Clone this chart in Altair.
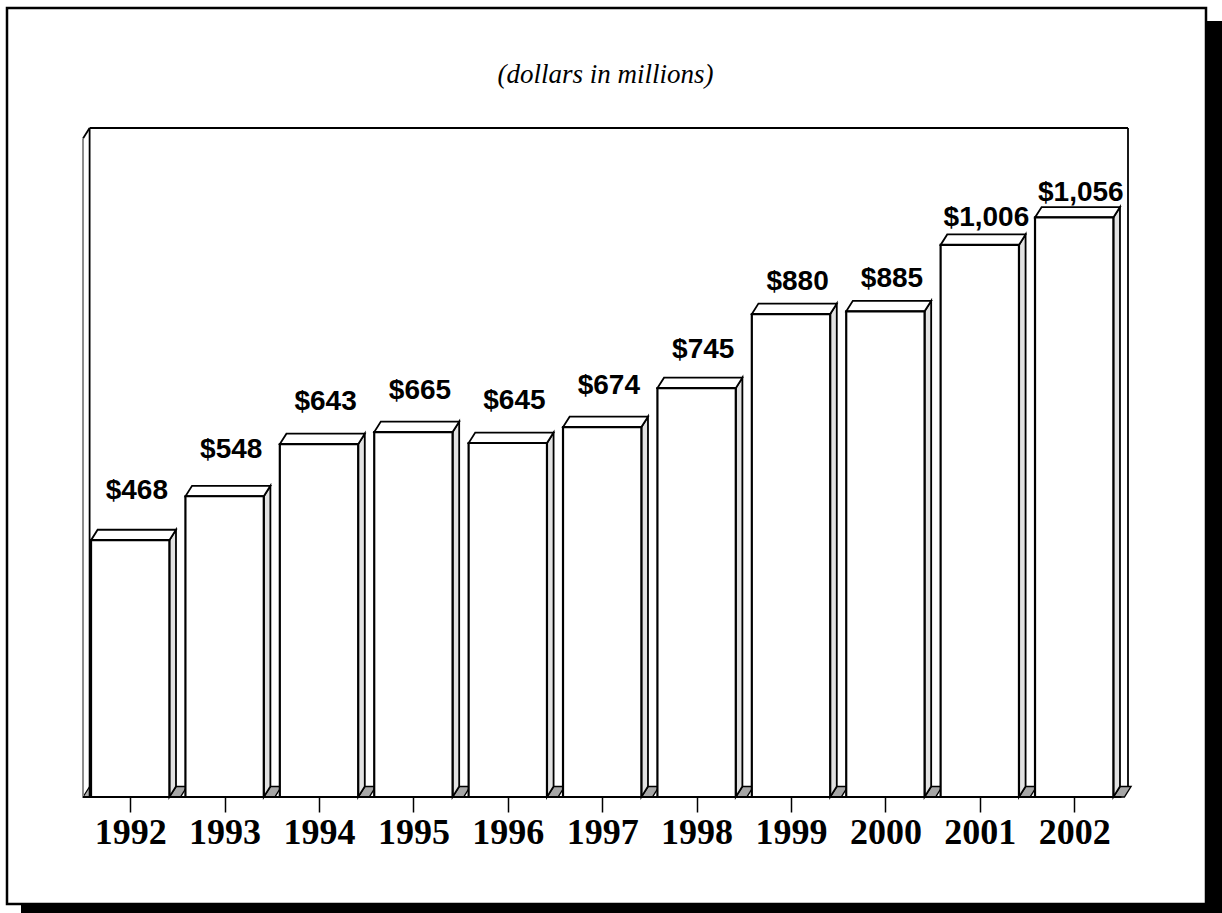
import altair as alt
import pandas as pd

# ---- data ----
years = ["1992", "1993", "1994", "1995", "1996", "1997", "1998", "1999", "2000", "2001", "2002"]
values = [468, 548, 643, 665, 645, 674, 745, 880, 885, 1006, 1056]
labels = ["$" + format(v, ",") for v in values]
subtitle = "(dollars in millions)"

# ---- 3D styling constants ----
N = len(years)
TOP = 1200          # axis maximum (front plane)
DX = 0.07           # depth, in band units
DY = 19             # depth, in value units
HALF = 0.415        # half bar width, in band units
SHADOW_W = 0.117    # floor shadow width, in band units
LABEL_LIFT = 112.1
LABEL_DAMP = 0.0775

xs = alt.Scale(domain=[0, N + DX], nice=False, zero=False)
ys = alt.Scale(domain=[0, TOP + DY], nice=False, zero=False)

bars = pd.DataFrame({"year": years, "value": values, "label": labels})
bars["i"] = range(N)
bars["L"] = bars["i"] + 0.5 - HALF
bars["R"] = bars["i"] + 0.5 + HALF
bars["c"] = bars["i"] + 0.5
bars["lx"] = bars["c"] + DX
bars["ly"] = bars["value"] + LABEL_LIFT - LABEL_DAMP * bars["value"]
bars["zero"] = 0

# polygons (closed vertex lists) for the 3D faces
top_rows, side_rows, shadow_rows = [], [], []
for y, v, L, R in zip(bars["year"], bars["value"], bars["L"], bars["R"]):
    for k, (px, py) in enumerate([(L, v), (R, v), (R + DX, v + DY), (L + DX, v + DY), (L, v)]):
        top_rows.append({"face": "t" + y, "k": k, "px": px, "py": py})
    for k, (px, py) in enumerate([(R, 0), (R, v), (R + DX, v + DY), (R + DX, DY), (R, 0)]):
        side_rows.append({"face": "s" + y, "k": k, "px": px, "py": py})
    for k, (px, py) in enumerate([(R, 0), (R + SHADOW_W, 0), (R + SHADOW_W + DX, DY), (R + DX, DY), (R, 0)]):
        shadow_rows.append({"face": "f" + y, "k": k, "px": px, "py": py})
tops = pd.DataFrame(top_rows)
sides = pd.DataFrame(side_rows)
shadows = pd.DataFrame(shadow_rows)
corner = pd.DataFrame({"face": ["c"] * 4, "k": [0, 1, 2, 3],
                       "px": [0, DX, DX, 0], "py": [0, DY, 0, 0]})

segs_black = pd.DataFrame([
    {"x": DX, "y": 0, "x2": DX, "y2": TOP + DY},
    {"x": DX, "y": TOP + DY, "x2": N + DX, "y2": TOP + DY},
    {"x": N + DX, "y": DY, "x2": N + DX, "y2": TOP + DY},
    {"x": 0, "y": TOP, "x2": DX, "y2": TOP + DY},
    {"x": N, "y": 0, "x2": N + DX, "y2": DY},
])
segs_gray = pd.DataFrame([{"x": 0, "y": 0, "x2": 0, "y2": TOP}])
floor = pd.DataFrame([{"x": 0, "y": 0, "x2": N, "y2": 0}])

label_expr = "[" + ",".join("'" + y + "'" for y in years) + "][floor(datum.value)]"
X_AXIS = alt.Axis(values=list(bars["c"]), labelExpr=label_expr, domain=False, grid=False,
                  ticks=True, tickSize=15, tickWidth=1.5, tickColor="black",
                  labelFont="Liberation Serif", labelFontWeight="bold", labelFontSize=36,
                  labelColor="black", labelPadding=3, labelOverlap=False, labelFlush=False,
                  zindex=1, title=None)


def X(field):
    return alt.X(field, scale=xs, axis=X_AXIS, title=None)


def Y(field):
    return alt.Y(field, scale=ys, axis=None, stack=None, title=None)


# ---- page frame with drop shadow ----
frame_shadow = alt.Chart(floor).mark_rect(fill="black").encode(
    x=alt.value(-62), x2=alt.value(1145), y=alt.value(-107), y2=alt.value(800)
)
frame_box = alt.Chart(floor).mark_rect(fill="white", stroke="black", strokeWidth=2.5).encode(
    x=alt.value(-76), x2=alt.value(1123), y=alt.value(-120), y2=alt.value(776)
)
title_text = alt.Chart(floor).mark_text(
    text=subtitle, font="Liberation Serif", fontStyle="italic", fontSize=27, color="black",
    align="center", baseline="alphabetic"
).encode(x=alt.value(522.5), y=alt.value(-45))


def rules(df, color, width):
    return alt.Chart(df).mark_rule(color=color, strokeWidth=width).encode(
        x=X("x:Q"), y=Y("y:Q"), x2="x2:Q", y2="y2:Q",
    )


def faces(df, fill, width):
    return alt.Chart(df).mark_line(fill=fill, stroke="black", strokeWidth=width,
                                   strokeJoin="miter", interpolate="linear-closed").encode(
        x=X("px:Q"), y=Y("py:Q"), detail="face:N", order="k:Q",
    )


corner_tri = faces(corner, "#b0b0b0", 1.2)
wall = rules(segs_black, "black", 1.8)
wall_gray = rules(segs_gray, "#8c8c8c", 2)
floor_line = rules(floor, "black", 2)

shadow_layer = faces(shadows, "#a6a6a6", 1.4)
side_layer = faces(sides, "#e2e2e2", 1.8)
top_layer = faces(tops, "white", 1.8)

front = alt.Chart(bars).mark_rect(fill="white", stroke="black", strokeWidth=2.2).encode(
    x=X("L:Q"), x2="R:Q", y=Y("zero:Q"), y2="value:Q",
)

value_text = alt.Chart(bars).mark_text(
    font="Liberation Sans", fontWeight="bold", fontSize=28, color="black",
    align="center", baseline="alphabetic"
).encode(
    x=X("lx:Q"), y=Y("ly:Q"), text="label:N",
)

chart = alt.layer(
    frame_shadow, frame_box, title_text, corner_tri, wall, wall_gray,
    shadow_layer, side_layer, top_layer, front, floor_line, value_text
).properties(
    width=1045,
    height=669,
    autosize=alt.AutoSizeParams(type="none"),
    padding={"left": 83, "top": 128, "right": 94, "bottom": 116},
    background="white",
).configure_view(stroke=None)

chart.save("out.html", embed_options={"renderer": "svg", "actions": False})
